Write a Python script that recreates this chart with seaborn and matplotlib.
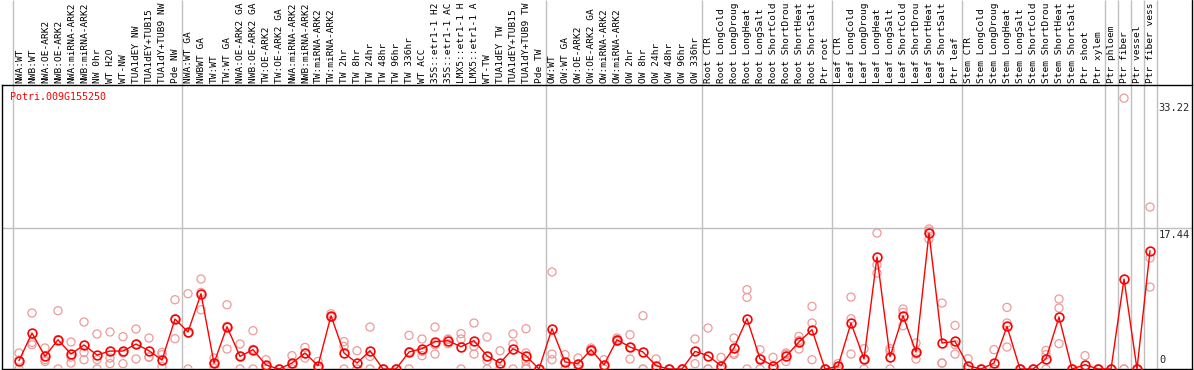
import matplotlib
matplotlib.use("Agg")
import matplotlib.pyplot as plt
import matplotlib.transforms as mtransforms
import numpy as np
import pandas as pd
import seaborn as sns

# ---------------- data ----------------
gene_id = "Potri.009G155250"

samples = [
    "NWA:WT", "NWB:WT", "NWA:OE-ARK2", "NWB:OE-ARK2", "NWA:miRNA-ARK2", "NWB:miRNA-ARK2",
    "NW 0hr", "WT H2O", "WT-NW", "TUA1dEY NW", "TUA1dEY+TUB15", "TUA1dY+TUB9 NW", "Pde NW",
    "NWA:WT GA", "NWBWT GA", "TW:WT", "TW:WT GA", "NWA:OE-ARK2 GA", "NWB:OE-ARK2 GA",
    "TW:OE-ARK2", "TW:OE-ARK2 GA", "NWA:miRNA-ARK2", "NWB:miRNA-ARK2", "TW:miRNA-ARK2",
    "TW:miRNA-ARK2", "TW 2hr", "TW 8hr", "TW 24hr", "TW 48hr", "TW 96hr", "TW 336hr",
    "WT ACC", "35S::etr1-1 H2", "35S::etr1-1 AC", "LMX5::etr1-1 H", "LMX5::etr1-1 A",
    "WT-TW", "TUA1dEY TW", "TUA1dEY+TUB15", "TUA1dY+TUB9 TW", "Pde TW",
    "OW:WT", "OW:WT GA", "OW:OE-ARK2", "OW:OE-ARK2 GA", "OW:miRNA-ARK2", "OW:miRNA-ARK2",
    "OW 2hr", "OW 8hr", "OW 24hr", "OW 48hr", "OW 96hr", "OW 336hr",
    "Root CTR", "Root LongCold", "Root LongDroug", "Root LongHeat", "Root LongSalt",
    "Root ShortCold", "Root ShortDrou", "Root ShortHeat", "Root ShortSalt", "Ptr root",
    "Leaf CTR", "Leaf LongCold", "Leaf LongDroug", "Leaf LongHeat", "Leaf LongSalt",
    "Leaf ShortCold", "Leaf ShortDrou", "Leaf ShortHeat", "Leaf ShortSalt", "Ptr leaf",
    "Stem CTR", "Stem LongCold", "Stem LongDroug", "Stem LongHeat", "Stem LongSalt",
    "Stem ShortCold", "Stem ShortDrou", "Stem ShortHeat", "Stem ShortSalt", "Ptr shoot",
    "Ptr xylem", "Ptr phloem", "Ptr fiber", "Ptr vessel", "Ptr fiber vess",
]

# group boundaries (index of first sample of each group)
group_starts = [0, 13, 41, 53, 63, 73, 84, 85, 86, 87, 88]

mean_expr = [
    1.03, 4.45, 1.56, 3.62, 1.85, 2.97, 1.73, 2.22, 2.22, 3.09, 2.26, 1.11, 6.18,
    4.58, 9.31, 0.74, 5.23, 1.56, 2.39, 0.49, 0.00, 0.74, 1.98, 0.41, 6.59, 1.98,
    0.74, 2.26, 0.00, 0.00, 2.10, 2.51, 3.38, 3.50, 2.76, 3.50, 1.65, 0.74, 2.51,
    1.65, 0.00,
    4.98, 0.87, 0.66, 2.39, 0.53, 3.62, 2.72, 2.10, 0.41, 0.00, 0.00, 2.18,
    1.65, 0.41, 2.60, 6.22, 1.27, 0.41, 1.56, 3.34, 4.86, 0.00,
    0.32, 5.69, 1.24, 13.85, 1.52, 6.59, 2.10, 16.82, 3.21, 3.42,
    0.41, 0.00, 0.74, 5.27, 0.00, 0.00, 1.27, 6.43, 0.00, 0.53, 0.00,
    0.00, 11.13, 0.00, 14.63,
]

rep_a = [
    1.98, 6.93, 2.60, 7.21, 3.34, 5.81, 4.33, 4.58, 4.00, 4.95, 3.83, 2.05, 8.57,
    9.31, 11.13, 1.36, 7.95, 3.09, 4.74, 1.15, 0.00, 1.65, 2.67, 0.94, 6.84, 3.38,
    2.26, 5.19, 0.00, 0.00, 4.16, 3.71, 5.19, 3.71, 4.37, 5.69, 3.96, 2.26, 4.33,
    4.98, 0.00,
    12.00, 1.77, 1.36, 2.60, 1.15, 3.83, 4.24, 6.59, 1.24, 0.00, 0.00, 3.71,
    5.07, 1.44, 3.83, 9.81, 2.39, 1.44, 1.98, 4.03, 7.74, 0.00,
    0.66, 8.90, 2.51, 16.82, 2.51, 7.42, 3.21, 17.32, 8.16, 5.39,
    1.27, 0.00, 2.39, 7.62, 0.00, 0.00, 2.30, 8.66, 0.00, 1.65, 0.00,
    0.00, 33.50, 0.00, 20.04,
]
rep_b = [
    1.10, 3.29, 1.15, 3.65, 1.47, 2.05, 1.15, 1.36, 2.00, 3.08, 1.50, 1.77, 6.22,
    4.43, 9.47, 0.74, 5.27, 1.59, 2.43, 0.30, 0.00, 0.57, 1.90, 0.30, 6.50, 2.80,
    0.00, 1.56, 0.00, 0.00, 2.14, 2.18, 3.00, 3.66, 3.71, 2.80, 1.06, 0.00, 3.09,
    1.98, 0.00,
    1.85, 0.84, 0.62, 2.39, 0.45, 3.60, 2.68, 0.00, 0.00, 0.00, 0.00, 2.17,
    0.00, 0.00, 1.98, 8.86, 1.24, 0.00, 1.80, 3.52, 5.69, 0.00,
    0.30, 6.22, 1.20, 12.90, 2.20, 7.00, 1.85, 17.06, 0.74, 3.02,
    0.00, 0.00, 0.00, 5.69, 0.00, 0.00, 1.77, 7.54, 0.00, 0.00, 0.00,
    0.00, 0.00, 0.00, 13.73,
]
rep_c = [
    0.00, 3.00, 0.93, 0.00, 0.74, 1.15, 0.00, 0.66, 0.66, 1.24, 1.45, 0.32, 3.75,
    0.00, 7.33, 0.12, 2.47, 0.00, 0.00, 0.00, 0.00, 0.00, 1.36, 0.00, 6.40, 0.00,
    0.00, 0.00, 0.00, 0.00, 0.00, 1.65, 1.85, 3.13, 0.00, 1.85, 0.00, 0.00, 0.00,
    0.00, 0.00,
    1.15, 0.00, 0.00, 2.20, 0.00, 3.40, 1.24, 0.00, 0.00, 0.00, 0.00, 0.66,
    0.00, 0.00, 1.80, 0.00, 0.00, 0.00, 0.94, 2.47, 1.15, 0.00,
    0.00, 1.85, 0.00, 11.87, 0.00, 5.36, 1.24, 16.08, 0.73, 1.85,
    0.00, 0.00, 0.00, 2.72, 0.00, 0.00, 0.00, 3.13, 0.00, 0.00, 0.00,
    0.00, 0.00, 0.00, 10.14,
]
# extra replicates seen for "TUA1dY+TUB9 TW"
extra_idx = [39, 39]
extra_val = [1.00, 0.30]

axis_marks = [33.22, 17.44, 0]

# ---------------- figure ----------------
sns.set_style("white")
plt.rcParams["font.family"] = ["DejaVu Sans Mono", "DejaVu Sans"]

W, H = 1194, 370
fig = plt.figure(figsize=(W / 100, H / 100), dpi=100)
left_px, right_px, top_px, bot_px = 2, 1192, 85, 369
ax = fig.add_axes([left_px / W, (H - bot_px) / H,
                   (right_px - left_px) / W, (bot_px - top_px) / H])

n = len(samples)
idx = np.arange(n)

reps = pd.DataFrame({
    "x": np.concatenate([idx, idx, idx, extra_idx]),
    "y": np.concatenate([rep_a, rep_b, rep_c, extra_val]),
})
means = pd.DataFrame({"x": idx, "y": mean_expr})

pink = "#ef9a9a"
red = "#ff0000"
grey = "#c0c0c0"

sns.scatterplot(data=reps, x="x", y="y", ax=ax, marker="o", s=34,
                facecolor="none", edgecolor=pink, linewidth=0.9, zorder=3,
                legend=False)
sns.lineplot(data=means, x="x", y="y", ax=ax, color=red, linewidth=1.0,
             marker="o", markersize=6.3, markerfacecolor="none",
             markeredgecolor=red, markeredgewidth=1.2, zorder=4,
             estimator=None, legend=False)

px_per_x = 13.0
x0 = (left_px - 19) / px_per_x
x1 = (right_px - 19) / px_per_x
ax.set_xlim(x0, x1)
ymax = 35.13
ax.set_ylim(0, ymax)
ax.set_xticks([])
ax.set_yticks([])
ax.set_xlabel("")
ax.set_ylabel("")

for s in ax.spines.values():
    s.set_color("black")
    s.set_linewidth(1.0)

# horizontal reference line
ax.axhline(17.44, color=grey, linewidth=1.0, zorder=1)

# group separators spanning header and plot
trans_x = mtransforms.blended_transform_factory(ax.transData, ax.transAxes)
top_frac = bot_px / (bot_px - top_px)
ax.vlines([g - 0.5 for g in group_starts], 0, top_frac, transform=trans_x,
          colors=grey, linewidth=1.0, clip_on=False, zorder=1)
# right border through header
ax.plot([1, 1], [1, top_frac], transform=ax.transAxes, color="black",
        linewidth=1.0, clip_on=False)

# header sample labels
for i, lab in enumerate(samples):
    ax.annotate(lab, xy=(i, 1.0), xycoords=trans_x, xytext=(0.3, 1.2),
                textcoords="offset points", rotation=90, ha="center",
                va="bottom", fontsize=6.8, color="black", annotation_clip=False)

# right-side value labels
trans_y = mtransforms.blended_transform_factory(ax.transAxes, ax.transData)
for v in axis_marks:
    if v == 0:
        ax.annotate("0", xy=(0.998, v), xycoords=trans_y, xytext=(-22, 3),
                    textcoords="offset points", ha="left", va="bottom",
                    fontsize=7.5)
    else:
        ax.annotate(f"{v:.2f}", xy=(0.998, v), xycoords=trans_y, xytext=(0, -1.5),
                    textcoords="offset points", ha="right", va="top",
                    fontsize=7.5)

# gene id
ax.text((10 - left_px) / (right_px - left_px), (bot_px - 97) / (bot_px - top_px),
        gene_id, transform=ax.transAxes, color=red, fontsize=7.2,
        ha="left", va="center")

fig.savefig("out.png", dpi=100)
